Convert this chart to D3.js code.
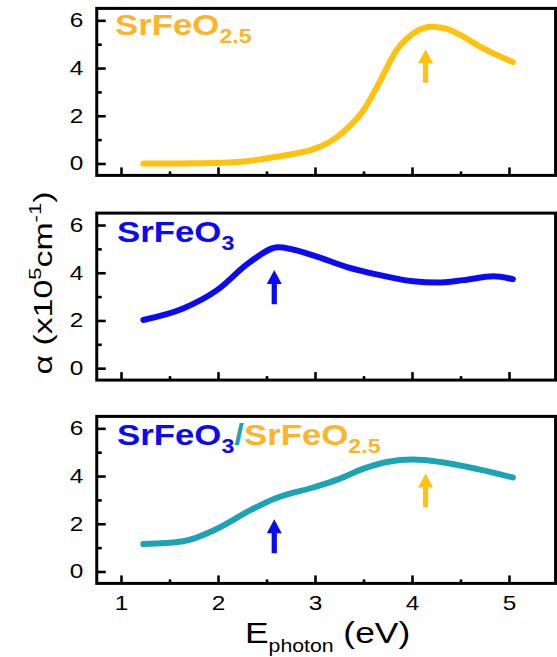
<!DOCTYPE html>
<html>
<head>
<meta charset="utf-8">
<script src="https://cdn.jsdelivr.net/npm/d3@7"></script>
<style>
body { margin: 0; background: #fff; }
text { font-family: "Liberation Sans", Arial, sans-serif; }
</style>
</head>
<body>
<svg width="557" height="657"></svg>
<script>
// absorption spectra (energy in eV, alpha in 1e5 cm^-1)
var energyBrown = [1.23, 1.6, 2.0, 2.2, 2.4, 2.6, 2.8, 3.0, 3.15, 3.3, 3.5, 3.67, 3.84, 3.95, 4.05, 4.2, 4.35, 4.5, 4.7, 5.04];
var alphaBrown  = [0.0, 0.0, 0.02, 0.06, 0.15, 0.28, 0.42, 0.62, 0.9, 1.35, 2.23, 3.45, 4.75, 5.25, 5.55, 5.73, 5.65, 5.38, 4.9, 4.25];

var energyPer = [1.23, 1.64, 1.99, 2.33, 2.62, 2.98, 3.33, 3.67, 4.01, 4.26, 4.53, 4.84, 5.04];
var alphaPer  = [2.02, 2.5, 3.27, 4.45, 5.07, 4.73, 4.24, 3.9, 3.64, 3.59, 3.69, 3.85, 3.73];

var energyHetero = [1.23, 1.64, 1.99, 2.33, 2.6, 2.98, 3.23, 3.5, 3.74, 4.01, 4.29, 4.7, 5.04];
var alphaHetero  = [1.15, 1.27, 1.79, 2.56, 3.08, 3.52, 3.85, 4.31, 4.59, 4.69, 4.59, 4.27, 3.94];

// arrows: [energy, base value, tip value]
var arrowsBrown  = [[4.14, 3.38, 4.79]];
var arrowsPer    = [[2.58, 2.68, 4.11]];
var arrowsHetero = [[2.58, 0.76, 2.19], [4.14, 2.68, 4.11]];

var yTicks = [0, 2, 4, 6];
var yMinor = [1, 3, 5];
var xTicks = [1, 2, 3, 4, 5];
var xMinor = [1.5, 2.5, 3.5, 4.5];

var orange = "#ffc20e", orangeText = "#fdb42b", blue = "#0a0af5", teal = "#1ba4b5";

var svg = d3.select("svg");

var x = d3.scaleLinear().domain([1, 5]).range([121, 509]);
var left = x(0.75), right = x(5.48);
var panelH = 167;

var panels = [
  {top: 8.4, e: energyBrown, a: alphaBrown, color: orange, arrows: arrowsBrown, arrowColors: [orange]},
  {top: 213.1, e: energyPer, a: alphaPer, color: blue, arrows: arrowsPer, arrowColors: [blue]},
  {top: 416.4, e: energyHetero, a: alphaHetero, color: teal, arrows: arrowsHetero, arrowColors: [blue, orange]}
];

function drawArrow(g, px, yBase, yTip, color) {
  var hw = 7.5, sw = 2.6, hh = 14;
  var p = "M" + (px - sw) + "," + yBase +
    "L" + (px - sw) + "," + (yTip + hh) +
    "L" + (px - hw) + "," + (yTip + hh) +
    "L" + px + "," + yTip +
    "L" + (px + hw) + "," + (yTip + hh) +
    "L" + (px + sw) + "," + (yTip + hh) +
    "L" + (px + sw) + "," + yBase + "Z";
  g.append("path").attr("d", p).attr("fill", color);
}

panels.forEach(function(p, i) {
  var y = d3.scaleLinear().domain([-0.5, 6.5]).range([p.top + panelH, p.top]);
  var g = svg.append("g");
  var bottom = p.top + panelH;

  // y axis, ticks pointing inwards
  var ya = g.append("g").attr("transform", "translate(" + left + ",0)")
    .call(d3.axisLeft(y).tickValues(yTicks).tickSize(-9).tickPadding(11).tickFormat(d3.format("d")));
  ya.append("g").call(d3.axisLeft(y).tickValues(yMinor).tickSize(-5).tickFormat(""));
  ya.selectAll(".domain").remove();

  var xa = g.append("g").attr("transform", "translate(0," + bottom + ")")
    .call(d3.axisBottom(x).tickValues(xTicks).tickSize(-8).tickPadding(12)
      .tickFormat(i == 2 ? d3.format("d") : ""));
  xa.append("g").call(d3.axisBottom(x).tickValues(xMinor).tickSize(-4).tickFormat(""));
  xa.selectAll(".domain").remove();

  g.selectAll(".tick line").attr("stroke", "#000").attr("stroke-width", 2.6);
  g.selectAll(".tick text").attr("font-size", 20).attr("fill", "#000")
    .attr("font-family", "Liberation Sans, Arial, sans-serif")
    .attr("transform", "scale(1.22,1)");

  g.append("rect")
    .attr("x", left).attr("y", p.top)
    .attr("width", right - left).attr("height", panelH)
    .attr("fill", "none").attr("stroke", "#000").attr("stroke-width", 3);

  var line = d3.line()
    .x(function(d, k) { return x(p.e[k]); })
    .y(function(d) { return y(d); })
    .curve(d3.curveMonotoneX);

  g.append("path").datum(p.a)
    .attr("d", line)
    .attr("fill", "none").attr("stroke", p.color)
    .attr("stroke-width", 6).attr("stroke-linecap", "round");

  p.arrows.forEach(function(ar, k) {
    drawArrow(g, x(ar[0]), y(ar[1]), y(ar[2]), p.arrowColors[k]);
  });
});

// panel titles
function title(xp, yp, parts) {
  var t = svg.append("g").attr("transform", "translate(" + xp + "," + yp + ") scale(1.16,1)")
    .append("text").attr("font-weight", "bold").attr("font-size", 30);
  parts.forEach(function(q) {
    var s = t.append("tspan").text(q[0]).attr("fill", q[1]);
    if (q[2]) s.attr("font-size", 20).attr("dy", 8);
    if (q[3]) s.attr("dy", -8);
  });
}
title(115, 35, [["SrFeO", orangeText], ["2.5", orangeText, true]]);
title(117, 242, [["SrFeO", blue], ["3", blue, true]]);
title(117, 445, [["SrFeO", blue], ["3", blue, true], ["/", teal, false, true], ["SrFeO", orangeText], ["2.5", orangeText, true]]);

// x label
var xl = svg.append("g").attr("transform", "translate(245,643) scale(1.18,1)")
  .append("text").attr("font-size", 30).attr("fill", "#000");
xl.append("tspan").text("E");
xl.append("tspan").text("photon").attr("font-size", 18).attr("dy", 9);
xl.append("tspan").text(" (eV)").attr("dy", -9);

// y label
var yl = svg.append("g").attr("transform", "translate(52,283) rotate(-90) scale(1.3,1)")
  .append("text").attr("font-size", 26).attr("fill", "#000").attr("text-anchor", "middle");
yl.append("tspan").text("\u03b1 (x10");
yl.append("tspan").text("5").attr("font-size", 17).attr("dy", -11);
yl.append("tspan").text("cm").attr("dy", 11);
yl.append("tspan").text("-1").attr("font-size", 17).attr("dy", -11);
yl.append("tspan").text(")").attr("dy", 11);
</script>
</body>
</html>
